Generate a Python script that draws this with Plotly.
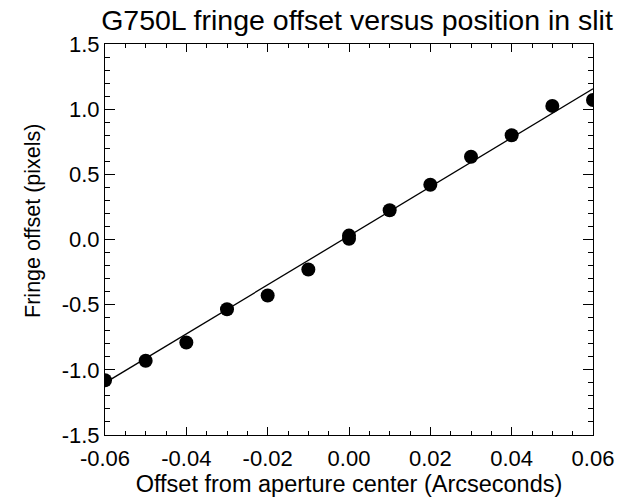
import plotly.graph_objects as go

# Data
x_offset = [-0.06, -0.05, -0.04, -0.03, -0.02, -0.01, 0.00, 0.00, 0.01, 0.02, 0.03, 0.04, 0.05, 0.06]
fringe = [-1.08, -0.93, -0.79, -0.535, -0.43, -0.23, 0.03, 0.005, 0.225, 0.42, 0.635, 0.80, 1.025, 1.07]

fit_x = [-0.06, 0.06]
fit_y = [-1.10, 1.156]

x_ticks = [-0.06, -0.04, -0.02, 0.0, 0.02, 0.04, 0.06]
x_ticktext = ["-0.06", "-0.04", "-0.02", "0.00", "0.02", "0.04", "0.06"]
y_ticks = [-1.5, -1.0, -0.5, 0.0, 0.5, 1.0, 1.5]
y_ticktext = ["-1.5", "-1.0", "-0.5", "0.0", "0.5", "1.0", "1.5"]

FONT = "Liberation Sans, Arial, Helvetica, sans-serif"

fig = go.Figure()
fig.add_trace(go.Scatter(x=fit_x, y=fit_y, mode="lines",
                         line=dict(color="black", width=1.3), showlegend=False))
fig.add_trace(go.Scatter(x=x_offset, y=fringe, mode="markers",
                         marker=dict(color="black", size=14, line=dict(width=0)),
                         showlegend=False, cliponaxis=True))

fig.update_layout(
    width=626, height=500,
    margin=dict(l=105, r=28, t=44, b=61),
    paper_bgcolor="white", plot_bgcolor="white",
    font=dict(family=FONT, color="black", size=22),
    title=dict(text="G750L fringe offset versus position in slit",
               font=dict(family=FONT, size=28.5, color="black"),
               x=357 / 626, xref="container", xanchor="center",
               y=1 - 20 / 500, yref="container", yanchor="middle"),
    xaxis=dict(range=[-0.06, 0.06], tickvals=x_ticks, ticktext=x_ticktext,
               ticks="inside", ticklen=8, tickcolor="black", tickwidth=1,
               showline=True, linecolor="black", linewidth=1, mirror="ticks",
               showgrid=False, zeroline=False,
               tickfont=dict(size=22), ticklabelstandoff=4,
               minor=dict(ticks="inside", ticklen=4, dtick=0.005, tick0=0,
                          tickcolor="black", showgrid=False),
               title=dict(text="Offset from aperture center (Arcseconds)",
                          font=dict(size=23.5), standoff=0)),
    yaxis=dict(range=[-1.5, 1.5], tickvals=y_ticks, ticktext=y_ticktext,
               ticks="inside", ticklen=10, tickcolor="black", tickwidth=1,
               showline=True, linecolor="black", linewidth=1, mirror="ticks",
               showgrid=False, zeroline=False,
               tickfont=dict(size=22),
               minor=dict(ticks="inside", ticklen=5, dtick=0.1, tick0=0,
                          tickcolor="black", showgrid=False)),
    annotations=[dict(text="Fringe offset (pixels)", textangle=-90,
                      xref="paper", yref="paper",
                      x=(32 - 105) / 493, y=(439 - 223) / 395,
                      xanchor="center", yanchor="middle", showarrow=False,
                      font=dict(family=FONT, size=21.5, color="black"))],
)

fig.write_html("out.html")
